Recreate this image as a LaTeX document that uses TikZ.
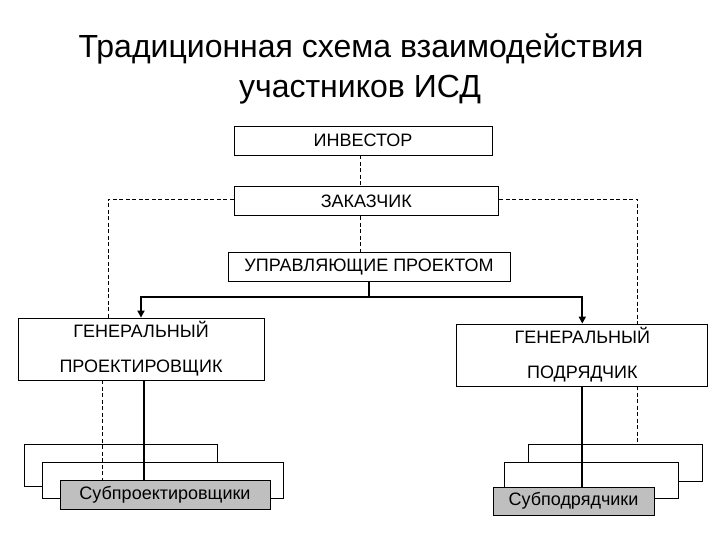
\documentclass[tikz,border=0pt]{standalone}
\usepackage{fontspec}
\setmainfont{Liberation Sans}
\usetikzlibrary{arrows.meta}
\begin{document}
\begin{tikzpicture}[x=1pt,y=-1pt,
  box/.style={draw, line width=0.8pt, fill=white, inner sep=0pt, font=\fontsize{18}{20}\selectfont},
  bigbox/.style={box, align=center, font=\fontsize{18}{35}\selectfont},
  subbox/.style={draw, line width=0.8pt, fill=white, inner sep=0pt},
  graybox/.style={box, fill=black!25},
  dsh/.style={dashed, dash pattern=on 4pt off 2.5pt, line width=0.6pt},
  thick line/.style={line width=2.2pt},
  arr/.style={line width=2.2pt, -{Triangle[length=7pt,width=7pt]}},
  titlefont/.style={font=\fontsize{32}{40}\selectfont, anchor=base}
]
\useasboundingbox[fill=white] (0,0) rectangle (720,540);

\node[titlefont] (title1) at (361,58) {Традиционная схема взаимодействия};
\node[titlefont] (title2) at (360,98) {участников ИСД};

\coordinate (lc) at (108,199);
\coordinate (rc) at (637,199);
\coordinate (rb) at (637,487);

\node[box, minimum width=258pt, minimum height=29pt] (inv) at (363,140.5) {ИНВЕСТОР};
\node[box, minimum width=264.6pt, minimum height=29.7pt] (zak) at (366.3,201) {ЗАКАЗЧИК};
\node[box, minimum width=282pt, minimum height=29.7pt] (upr) at (369,267) {УПРАВЛЯЮЩИЕ ПРОЕКТОМ};

\draw[dsh] ([xshift=-2.3pt]inv.south) -- ([xshift=-2.3pt]inv.south |- zak.north);
\draw[dsh] ([xshift=-5.6pt]zak.south) -- ([xshift=-5.6pt]zak.south |- upr.north);
\draw[dsh] (zak.west |- lc) -- (lc) -- (lc |- 0,318);
\draw[dsh] (zak.east |- rc) -- (rc) -- (rb);

\node[bigbox, minimum width=246pt, minimum height=62pt] (gp) at (141,349) {ГЕНЕРАЛЬНЫЙ\\ПРОЕКТИРОВЩИК};
\node[bigbox, minimum width=251pt, minimum height=62pt] (gpd) at (582.3,355) {ГЕНЕРАЛЬНЫЙ\\ПОДРЯДЧИК};

% stacked boxes, left
\node[subbox, minimum width=193pt, minimum height=42pt] (l1) at (120.5,465) {};
\node[subbox, minimum width=241pt, minimum height=36pt] (l2) at (162.5,480) {};
\node[graybox, minimum width=210pt, minimum height=29pt] (l3) at (165,494.5) {Субпроектировщики};
% stacked boxes, right
\node[subbox, minimum width=174pt, minimum height=37pt] (r1) at (615,462.5) {};
\node[subbox, minimum width=174pt, minimum height=36pt] (r2) at (591,480) {};
\node[graybox, minimum width=161pt, minimum height=28pt] (r3) at (573.5,501) {Субподрядчики};

% connectors
\coordinate (split) at (369,297);
\draw[thick line] (upr.south) -- (split);
\draw[arr] (split) -| (gp.north);
\draw[arr] (split) -| (gpd.north);
\draw[thick line] ([xshift=3pt]gp.south) -- ([xshift=3pt]gp.south |- l3.north);
\draw[thick line] (gpd.south) -- (gpd.south |- r3.north);
\draw[dsh] ([xshift=-39pt]gp.south) -- ([xshift=-39pt]gp.south |- l3.north);
\end{tikzpicture}
\end{document}
